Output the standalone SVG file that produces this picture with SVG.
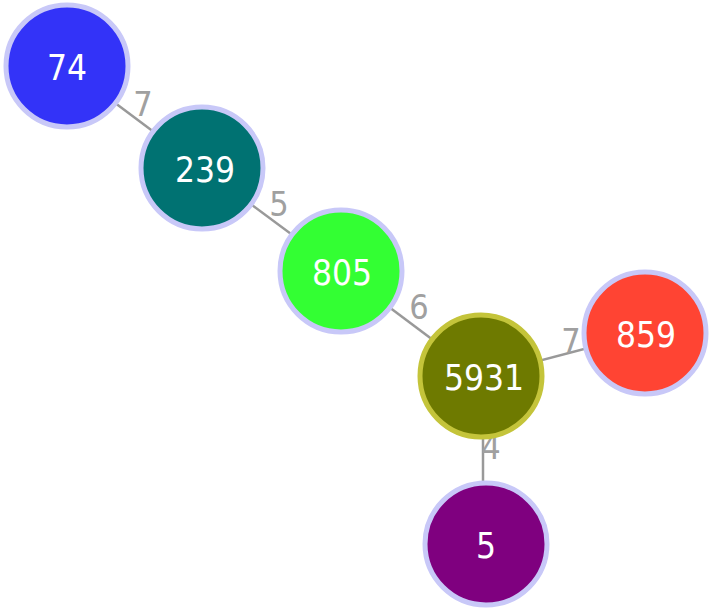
<svg xmlns="http://www.w3.org/2000/svg" width="712" height="611" viewBox="0 0 712 611">
<style>
.edge{stroke:#999;stroke-width:2.5;fill:none}
.elab{font-family:"DejaVu Sans Condensed","DejaVu Sans",sans-serif;font-size:34px;fill:#a0a0a0;text-anchor:middle}
.node circle{stroke:#c8c8f8;stroke-width:5}
.nlab{font-family:"DejaVu Sans Condensed","DejaVu Sans",sans-serif;font-size:35px;fill:#fff;text-anchor:middle;dominant-baseline:central}
</style>
<rect width="712" height="611" fill="#fff"/>
<g id="connectors">
<line class="edge" x1="67" y1="67" x2="202" y2="168"/>
<line class="edge" x1="202" y1="168" x2="341" y2="271"/>
<line class="edge" x1="341" y1="271" x2="481" y2="376"/>
<line class="edge" x1="481" y1="376" x2="645" y2="333"/>
<line class="edge" x1="483" y1="376" x2="483" y2="544"/>
<text class="elab" x="143" y="116">7</text>
<text class="elab" x="279" y="216">5</text>
<text class="elab" x="419" y="319">6</text>
<text class="elab" x="571" y="353">7</text>
<text class="elab" x="491" y="459">4</text>
</g>
<g id="n74" class="node"><circle cx="67" cy="66" r="61" fill="#3333f8"/><text class="nlab" x="67" y="68">74</text></g>
<g id="n239" class="node"><circle cx="202" cy="168" r="61" fill="#007272"/><text class="nlab" x="205" y="170">239</text></g>
<g id="n805" class="node"><circle cx="341" cy="271" r="61" fill="#33ff33"/><text class="nlab" x="342" y="273">805</text></g>
<g id="n5931" class="node"><circle cx="481" cy="376" r="61" fill="#6e7a00" style="stroke:#c4c43a"/><text class="nlab" x="484" y="378">5931</text></g>
<g id="n859" class="node"><circle cx="645" cy="333" r="61" fill="#ff4433"/><text class="nlab" x="646" y="335">859</text></g>
<g id="n5" class="node"><circle cx="486" cy="544" r="61" fill="#7f007f"/><text class="nlab" x="486" y="546">5</text></g>
</svg>
